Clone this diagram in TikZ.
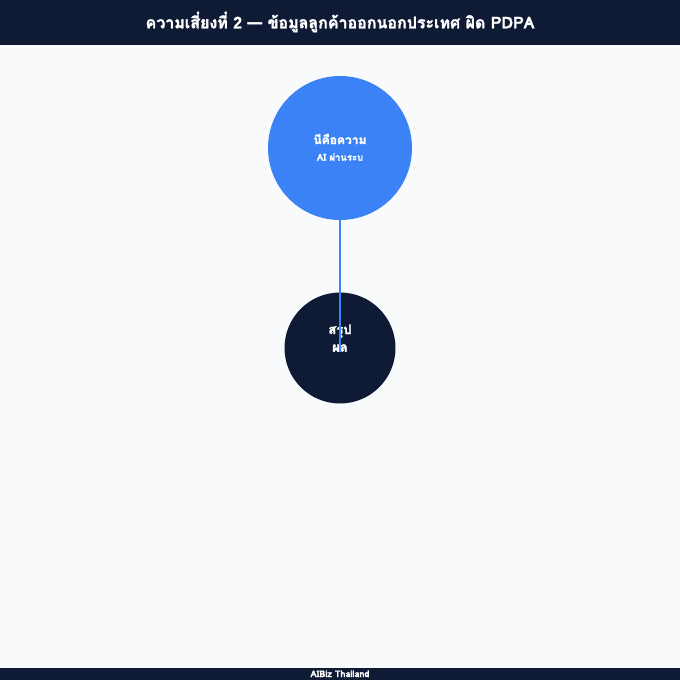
\documentclass[tikz,border=0pt]{standalone}
\usepackage{fontspec}
\newfontfamily\thaib[Script=Thai,FakeBold=2]{Loma Bold}
\definecolor{navy}{HTML}{0F1B35}
\definecolor{bgc}{HTML}{F8FAFC}
\definecolor{blu}{HTML}{3B82F6}
\begin{document}
\begin{tikzpicture}[x=1pt,y=-1pt,
  circ/.style={circle,inner sep=0pt,minimum size=#1},
  lbl/.style={text=white,inner sep=0pt,align=center}]
\useasboundingbox (0,0) rectangle (680,680);
\fill[bgc] (0,0) rectangle (680,680);
\fill[navy] (0,0) rectangle (680,45);
\fill[navy] (0,668) rectangle (680,680);
\node[lbl,font=\thaib\fontsize{9}{9}\selectfont,anchor=base] (foot) at (340,677) {AIBiz Thailand};
\node[lbl,font=\thaib\fontsize{16}{19}\selectfont] (title) at (340,22) {ความเสี่ยงที่ 2 — ข้อมูลลูกค้าออกนอกประเทศ ผิด PDPA};
\node[circ=144pt,fill=blu] (top) at (340,148) {};
\node[circ=111pt,fill=navy] (bot) at (340,348) {};
\node[lbl,font=\thaib\fontsize{12}{13}\selectfont] (t1) at (340,139) {นีคือความ};
\node[lbl,font=\thaib\fontsize{9.5}{11}\selectfont] (t2) at (340,157) {AI ผ่านระบ};
\node[lbl,font=\thaib\fontsize{13}{14}\selectfont] (b1) at (340,331) {สรุป};
\node[lbl,font=\thaib\fontsize{13}{14}\selectfont] (b2) at (340,348) {ผล};
\coordinate (end) at (340,352);
\draw[blu,line width=1.8pt] (top.south) -- (end);
\end{tikzpicture}
\end{document}
